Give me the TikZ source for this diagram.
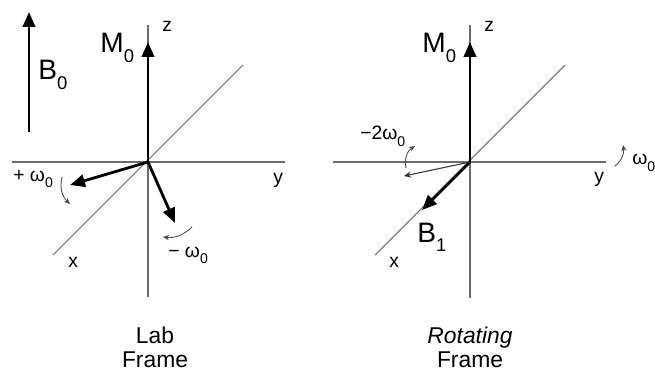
\documentclass[tikz,border=0pt]{standalone}
\usepackage{fontspec}
\setmainfont{Liberation Sans}
\usepackage{tikz}
\usetikzlibrary{arrows.meta}

\newcommand{\vecfont}{\fontsize{16}{18}\selectfont}
\newcommand{\axfont}{\fontsize{11}{13}\selectfont}
\newcommand{\capfont}{\fontsize{13}{13.6}\selectfont}
\newcommand{\bigsub}[1]{\raisebox{-5.5pt}{\fontsize{10.5}{12}\selectfont #1}}
\newcommand{\smallsub}[1]{\raisebox{-3.5pt}{\fontsize{8}{9}\selectfont #1}}

\tikzset{
  axis/.style={draw=gray!85!black, line width=0.6pt},
  vec/.style={line width=1.6pt, -{Triangle[length=8.5pt, width=7pt]}},
  thinvec/.style={line width=0.6pt, draw=black!80, -{Stealth[length=4pt, width=3.5pt]}},
  spin/.style={line width=0.5pt, draw=black!70, -{Stealth[length=3.5pt, width=3pt]}},
  lbl/.style={inner sep=0pt, anchor=base west},
}

\begin{document}
\begin{tikzpicture}[x=0.02cm, y=-0.02cm]
  \useasboundingbox (0,0) rectangle (655,371);
  % Lab frame: axes
  \coordinate (O1) at (148,162);
  \coordinate (Z1t) at (148,25);
  \coordinate (Z1b) at (148,297);
  \coordinate (Y1l) at (12,162);
  \coordinate (Y1r) at (285,162);
  \coordinate (X1l) at (53,255);
  \coordinate (X1r) at (243,65);
  \draw[axis] (Z1t) -- (Z1b);
  \draw[axis] (Y1l) -- (Y1r);
  \draw[axis] (X1l) -- (X1r);
  % Lab frame: vectors
  \coordinate (B0s) at (29,132);
  \coordinate (B0e) at (29,12);
  \coordinate (M1e) at (148,42);
  \coordinate (P1e) at (70,185);
  \coordinate (Q1e) at (175,223);
  \draw[vec] (B0s) -- (B0e);
  \draw[vec] (O1) -- (M1e);
  \draw[vec] (O1) -- (P1e);
  \draw[vec] (O1) -- (Q1e);
  % Lab frame: rotation arrows
  \coordinate (R1s) at (62,177);
  \coordinate (R1e) at (70,204);
  \coordinate (R2s) at (192,227);
  \coordinate (R2e) at (163,237);
  \draw[spin] (R1s) to[bend right=30] (R1e);
  \draw[spin] (R2s) to[bend left=25] (R2e);
  % Lab frame: labels
  \node[lbl, font=\vecfont] (B0) at (38,80) {B\bigsub{0}};
  \node[lbl, font=\vecfont] (M1) at (100,53) {M\bigsub{0}};
  \node[lbl, font=\axfont] (z1) at (162,32) {z};
  \node[lbl, font=\axfont] (y1) at (273,183) {y};
  \node[lbl, font=\axfont] (x1) at (68,267) {x};
  \node[lbl, font=\axfont] (w1) at (13,181) {+ ω\smallsub{0}};
  \node[lbl, font=\axfont] (w2) at (168,257) {− ω\smallsub{0}};
  \node[font=\capfont, align=center] (C1) at (155,347) {Lab\\Frame};

  % Rotating frame: axes
  \coordinate (O2) at (470,162);
  \coordinate (Z2t) at (470,25);
  \coordinate (Z2b) at (470,298);
  \coordinate (Y2l) at (333,162);
  \coordinate (Y2r) at (606,162);
  \coordinate (X2l) at (375,255);
  \coordinate (X2r) at (565,65);
  \draw[axis] (Z2t) -- (Z2b);
  \draw[axis] (Y2l) -- (Y2r);
  \draw[axis] (X2l) -- (X2r);
  % Rotating frame: vectors
  \coordinate (M2e) at (470,42);
  \coordinate (B1e) at (422,210);
  \coordinate (T2e) at (404,176);
  \draw[vec] (O2) -- (M2e);
  \draw[vec] (O2) -- (B1e);
  \draw[thinvec] (O2) -- (T2e);
  % Rotating frame: rotation arrows
  \coordinate (R3s) at (406,168);
  \coordinate (R3e) at (415,146);
  \coordinate (R4s) at (615,166);
  \coordinate (R4e) at (623,145);
  \draw[spin] (R3s) to[bend left=35] (R3e);
  \draw[spin] (R4s) to[bend right=30] (R4e);
  % Rotating frame: labels
  \node[lbl, font=\vecfont] (M2) at (422,53) {M\bigsub{0}};
  \node[lbl, font=\vecfont] (B1) at (417,242) {B\bigsub{1}};
  \node[lbl, font=\axfont] (z2) at (484,32) {z};
  \node[lbl, font=\axfont] (y2) at (594,182) {y};
  \node[lbl, font=\axfont] (x2) at (389,267) {x};
  \node[lbl, font=\axfont] (w3) at (360,140) {−2ω\smallsub{0}};
  \node[lbl, font=\axfont] (w4) at (632,165) {ω\smallsub{0}};
  \node[font=\capfont, align=center] (C2) at (470,347) {\textit{Rotating}\\Frame};
\end{tikzpicture}
\end{document}
